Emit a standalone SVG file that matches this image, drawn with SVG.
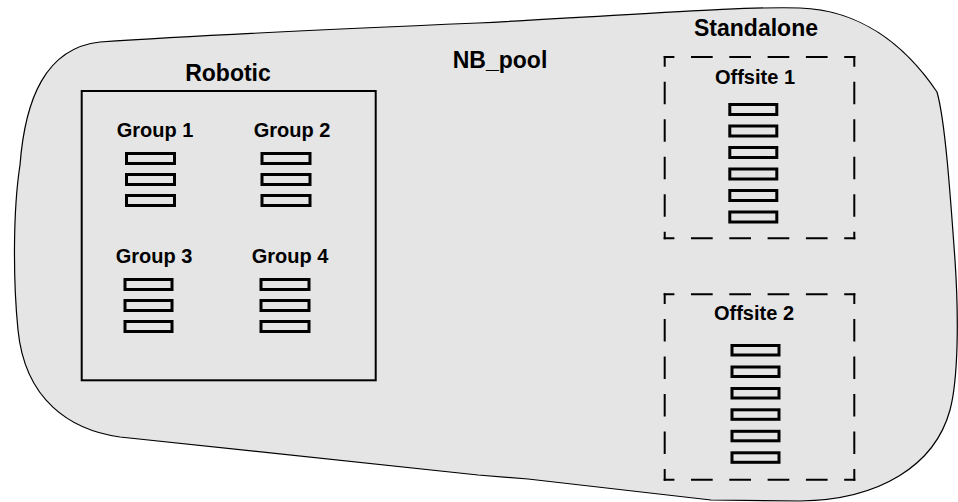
<svg xmlns="http://www.w3.org/2000/svg" width="958" height="502" viewBox="0 0 958 502">
  <style>
    .lbl { font-family: "Liberation Sans", Arial, sans-serif; font-weight: bold; fill: #000; text-anchor: middle; }
    .big { font-size: 23px; }
    .small { font-size: 20px; }
    .slot { fill: none; stroke: #000; stroke-width: 3; }
    .box { fill: none; stroke: #000; stroke-width: 2; }
    .dh { stroke: #000; stroke-width: 2; stroke-dasharray: 21.7 16.6; stroke-dashoffset: 11; }
    .dv { stroke: #000; stroke-width: 2; stroke-dasharray: 22.5 15; stroke-dashoffset: 11.8; }
  </style>
  <rect width="958" height="502" fill="#ffffff"/>
  <g id="nb_pool">
    <path d="M 100,42 C 220,34 360,28 478,23 C 620,16 740,6 800,8 C 860,10 905,45 937,92 C 945,120 950,190 955,260 C 959,320 958,380 950,410 C 935,465 880,500 800,501 L 711,500 L 528,479 L 478,475 L 120,437 C 70,430 25,400 18,330 C 13,280 13,210 20,165 C 25,100 45,48 100,42 Z" fill="#e5e5e5" stroke="#000" stroke-width="1.2"/>
    <text class="lbl big" x="500" y="68">NB_pool</text>
  </g>
  <g id="robotic">
    <rect class="box" x="81.7" y="91" width="294" height="289.3"/>
    <text class="lbl big" x="228" y="81">Robotic</text>
  </g>
  <g id="group1">
    <text class="lbl small" x="155" y="137">Group 1</text>
    <rect class="slot" x="126.5" y="153.5" width="48" height="10"/>
    <rect class="slot" x="126.5" y="174.5" width="48" height="10"/>
    <rect class="slot" x="126.5" y="195.5" width="48" height="10"/>
  </g>
  <g id="group2">
    <text class="lbl small" x="292" y="137">Group 2</text>
    <rect class="slot" x="262" y="153.5" width="48" height="10"/>
    <rect class="slot" x="262" y="174.5" width="48" height="10"/>
    <rect class="slot" x="262" y="195.5" width="48" height="10"/>
  </g>
  <g id="group3">
    <text class="lbl small" x="154" y="263">Group 3</text>
    <rect class="slot" x="125" y="279.5" width="47" height="10"/>
    <rect class="slot" x="125" y="300.5" width="47" height="10"/>
    <rect class="slot" x="125" y="321.5" width="47" height="10"/>
  </g>
  <g id="group4">
    <text class="lbl small" x="290" y="263">Group 4</text>
    <rect class="slot" x="261" y="279.5" width="48" height="10"/>
    <rect class="slot" x="261" y="300.5" width="48" height="10"/>
    <rect class="slot" x="261" y="321.5" width="48" height="10"/>
  </g>
  <g id="standalone">
    <text class="lbl big" x="756" y="36">Standalone</text>
  </g>
  <g id="offsite1">
    <line class="dh" x1="663.7" y1="57" x2="855.3" y2="57"/>
    <line class="dh" x1="663.7" y1="238.3" x2="855.3" y2="238.3"/>
    <line class="dv" x1="664.7" y1="56" x2="664.7" y2="239.3"/>
    <line class="dv" x1="854.3" y1="56" x2="854.3" y2="239.3"/>
    <text class="lbl small" x="755" y="84">Offsite 1</text>
    <rect class="slot" x="729.8" y="104.5" width="47" height="10"/>
    <rect class="slot" x="729.8" y="126" width="47" height="10"/>
    <rect class="slot" x="729.8" y="147.5" width="47" height="10"/>
    <rect class="slot" x="729.8" y="169" width="47" height="10"/>
    <rect class="slot" x="729.8" y="190.5" width="47" height="10"/>
    <rect class="slot" x="729.8" y="212" width="47" height="10"/>
  </g>
  <g id="offsite2">
    <line class="dh" x1="663.7" y1="294.3" x2="855.3" y2="294.3"/>
    <line class="dh" x1="663.7" y1="479.7" x2="855.3" y2="479.7"/>
    <line class="dv" x1="664.7" y1="293.3" x2="664.7" y2="480.7"/>
    <line class="dv" x1="854.3" y1="293.3" x2="854.3" y2="480.7"/>
    <text class="lbl small" x="754" y="320">Offsite 2</text>
    <rect class="slot" x="732" y="345.5" width="47" height="9.5"/>
    <rect class="slot" x="732" y="367" width="47" height="9.5"/>
    <rect class="slot" x="732" y="388.5" width="47" height="9.5"/>
    <rect class="slot" x="732" y="409.8" width="47" height="9.5"/>
    <rect class="slot" x="732" y="431.3" width="47" height="9.5"/>
    <rect class="slot" x="732" y="452.8" width="47" height="9.5"/>
  </g>
  <g id="connectors"/>
</svg>
